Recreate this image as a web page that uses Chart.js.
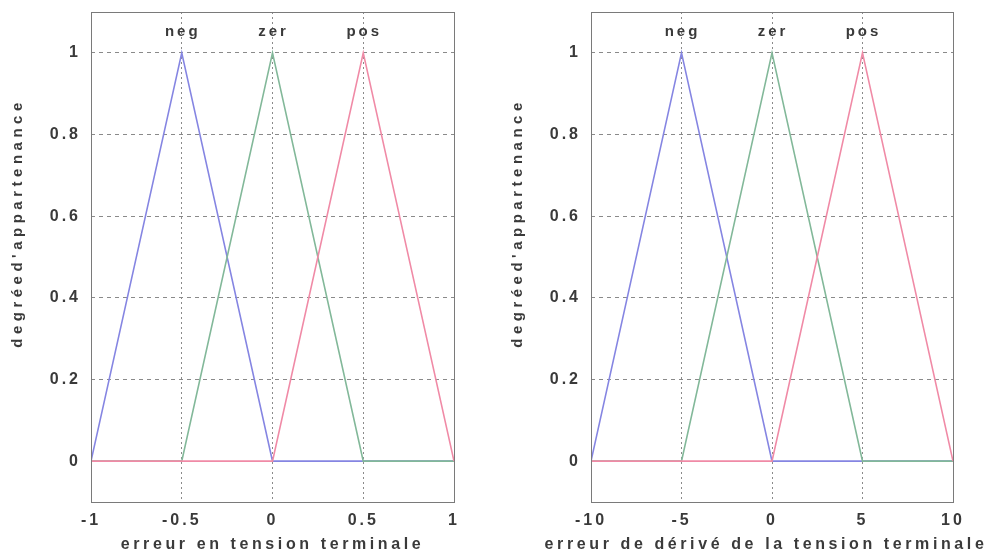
<!DOCTYPE html>
<html>
<head>
<meta charset="utf-8">
<script src="https://cdn.jsdelivr.net/npm/chart.js@4/dist/chart.umd.min.js"></script>
<style>
    body { margin: 0; background: #fff; }
    .box { position: absolute; top: 0; height: 554px; }
    #box-err { left: 0; width: 480px; }
    #box-deriv { left: 500px; width: 491px; }
</style>
</head>
<body>
<div class="box" id="box-err"><canvas id="chart-err"></canvas></div>
<div class="box" id="box-deriv"><canvas id="chart-deriv"></canvas></div>
<script>
// universe of discourse for each input
const errX = [-1, -0.5, 0, 0.5, 1];
const derivX = [-10, -5, 0, 5, 10];

// membership degrees at those points
const negVals = [0, 1, 0, 0, 0];
const zerVals = [0, 0, 1, 0, 0];
const posVals = [0, 0, 0, 1, 0];

const setNames = ['neg', 'zer', 'pos'];
const yTicks = [0, 0.2, 0.4, 0.6, 0.8, 1];

const setColors = ['#8585e2', '#82b899', '#f08aa6'];
const textColor = '#3a3a3a';
const gridColor = '#8a8a8a';
const fontFamily = '"Liberation Sans", Arial, sans-serif';

function points(xs, ys) {
    return xs.map((x, i) => ({ x: x, y: ys[i] }));
}

// frame, set names above the peaks, axis titles
const extrasPlugin = {
    id: 'extras',
    beforeDraw(chart) {
        chart.ctx.letterSpacing = '3px';
    },
    afterDraw(chart) {
        const ctx = chart.ctx;
        const area = chart.chartArea;
        const xScale = chart.scales.x;
        const opts = chart.options.plugins.extras;

        ctx.save();
        ctx.strokeStyle = '#7a7a7a';
        ctx.lineWidth = 1;
        ctx.strokeRect(area.left + 0.5, area.top + 0.5, area.width, area.height);

        ctx.fillStyle = textColor;
        ctx.font = 'bold 15px ' + fontFamily;
        ctx.letterSpacing = '3px';
        ctx.textAlign = 'center';
        ctx.textBaseline = 'middle';
        chart.data.datasets.forEach(ds => {
            const peak = ds.data.find(p => p.y === 1);
            ctx.fillText(ds.label, xScale.getPixelForValue(peak.x) + 1, 32);
        });

        ctx.font = 'bold 16px ' + fontFamily;
        ctx.letterSpacing = '3.6px';
        ctx.fillText(opts.xTitle, (area.left + area.right) / 2 + opts.xTitleShift, 545);

        ctx.font = 'bold 15px ' + fontFamily;
        ctx.letterSpacing = '4.5px';
        ctx.translate(18, 223);
        ctx.rotate(-Math.PI / 2);
        ctx.fillText("degréed'appartenance", 0, 0);
        ctx.restore();
    }
};

function makeChart(canvasId, xs, xTitle, rightPad, xTitleShift) {
    const ctx = document.getElementById(canvasId).getContext('2d');
    const series = [negVals, zerVals, posVals];

    return new Chart(ctx, {
        type: 'line',
        data: {
            datasets: series.map((vals, i) => ({
                label: setNames[i],
                data: points(xs, vals),
                borderColor: setColors[i],
                borderWidth: 1.6,
                pointRadius: 0,
                fill: false,
                tension: 0,
                order: 2 - i
            }))
        },
        options: {
            responsive: true,
            maintainAspectRatio: false,
            animation: false,
            layout: { padding: { top: 12, right: rightPad, left: 0, bottom: 0 } },
            plugins: {
                legend: { display: false },
                tooltip: { enabled: false },
                extras: { xTitle: xTitle, xTitleShift: xTitleShift }
            },
            scales: {
                x: {
                    type: 'linear',
                    min: xs[0],
                    max: xs[xs.length - 1],
                    afterBuildTicks: scale => {
                        scale.ticks = xs.map(v => ({ value: v }));
                    },
                    afterFit: scale => { scale.height = 52; },
                    grid: {
                        color: gridColor,
                        lineWidth: 1,
                        drawTicks: false
                    },
                    border: { display: false, dash: [2, 3] },
                    ticks: {
                        padding: 9,
                        color: textColor,
                        font: { family: fontFamily, size: 16, weight: 'bold' },
                        maxRotation: 0,
                        callback: v => String(v)
                    }
                },
                y: {
                    min: -0.1,
                    max: 1.1,
                    afterBuildTicks: scale => {
                        scale.ticks = yTicks.map(v => ({ value: v }));
                    },
                    afterFit: scale => {
                        scale.width = 91;
                        scale.paddingTop = 0;
                        scale.paddingBottom = 0;
                    },
                    grid: {
                        color: gridColor,
                        lineWidth: 1,
                        drawTicks: false
                    },
                    border: { display: false, dash: [4, 4] },
                    ticks: {
                        padding: 10,
                        color: textColor,
                        font: { family: fontFamily, size: 16, weight: 'bold' },
                        callback: v => String(v)
                    }
                }
            }
        },
        plugins: [extrasPlugin]
    });
}

makeChart('chart-err', errX, 'erreur en tension terminale', 26, 0);
makeChart('chart-deriv', derivX, 'erreur de dérivé de la tension terminale', 38, -6);
</script>
</body>
</html>
